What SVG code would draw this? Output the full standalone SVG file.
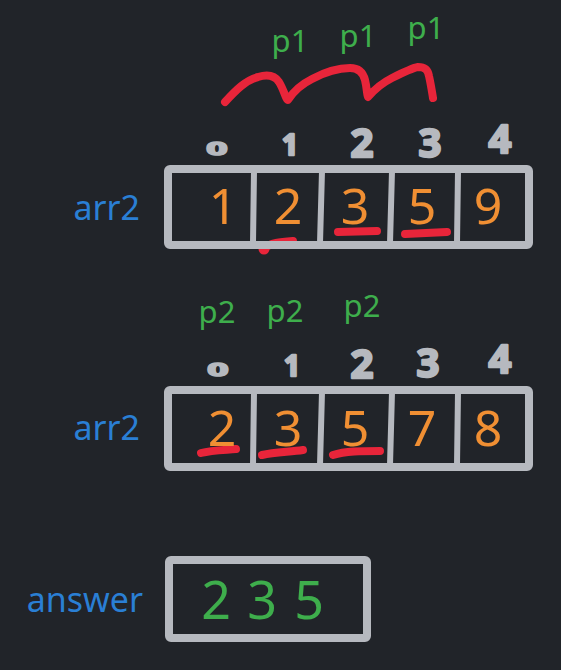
<svg xmlns="http://www.w3.org/2000/svg" width="561" height="670" viewBox="0 0 561 670">
<style>
.box{fill:none;stroke:#b6b9bf;stroke-width:8;stroke-linejoin:round}
.div{stroke:#b6b9bf;stroke-width:6;stroke-linecap:round}
.red{fill:none;stroke:#e8253a;stroke-width:8;stroke-linecap:round;stroke-linejoin:round}
.val{font-family:"Noto Sans",sans-serif;font-size:50px;fill:#f08f33;text-anchor:middle}
.ans{font-family:"Noto Sans",sans-serif;font-size:52px;fill:#3eae4c;text-anchor:middle}
.ptr{font-family:"Noto Sans",sans-serif;font-size:31px;fill:#3eae4c;text-anchor:middle}
.lbl{font-family:"Noto Sans",sans-serif;font-size:34px;fill:#2a7fd4;text-anchor:end}
.idx{font-family:"Noto Sans",sans-serif;font-weight:bold;font-size:40px;fill:#b6b9bf;stroke:#b6b9bf;stroke-width:2.5;stroke-linejoin:round;text-anchor:middle}
.idxs{font-family:"Noto Sans",sans-serif;font-weight:bold;font-size:28px;fill:#b6b9bf;stroke:#b6b9bf;stroke-width:2.5;stroke-linejoin:round;text-anchor:middle}
</style>
<rect width="561" height="670" fill="#212429"/>

<g id="pointers-p1">
<text class="ptr" x="290" y="52">p1</text>
<text class="ptr" x="358" y="47">p1</text>
<text class="ptr" x="426" y="39">p1</text>
</g>

<g id="connectors">
<path class="red" d="M225,102 C236,90 246,80 258,77 C268,74 275,76 279,82 C284,90 286,100 288,100 C293,92 302,84 312,79 C325,72 340,68 350,68 C358,68 363,72 365,80 C367,88 367,96 368,97 C374,90 382,83 392,78 C402,73 412,68 418,67 C425,67 428,70 429,76 C431,85 432,92 433,98"/>
<path class="red" d="M338,232 L377,231"/>
<path class="red" d="M405,234 L447,232"/>
<path class="red" d="M265,248 C270,243 280,242 293,241"/>
<circle cx="264" cy="249" r="5.5" fill="#e8253a"/>
<path class="red" d="M201,453 C212,450 225,450 236,449"/>
<path class="red" d="M262,455 C275,452 290,452 303,450"/>
<path class="red" d="M333,455 C345,451 362,451 380,451"/>
</g>

<g id="arr2-top">
<text class="lbl" x="140" y="220">arr2</text>
<text class="idxs" transform="translate(217,155) scale(1.3,0.62)">0</text>
<text class="idxs" x="290" y="155">1</text>
<text class="idx" x="362" y="157">2</text>
<text class="idx" x="430" y="157">3</text>
<text class="idx" x="500" y="153">4</text>
<rect class="box" x="168" y="169" width="361" height="76" rx="2"/>
<line class="div" x1="254" y1="171" x2="253" y2="243"/>
<line class="div" x1="322" y1="171" x2="320" y2="243"/>
<line class="div" x1="392" y1="171" x2="390" y2="243"/>
<line class="div" x1="458" y1="171" x2="457" y2="243"/>
<text class="val" x="223" y="224">1</text>
<text class="val" x="288" y="224">2</text>
<text class="val" x="355" y="224">3</text>
<text class="val" x="422" y="224">5</text>
<text class="val" x="488" y="224">9</text>
</g>

<g id="pointers-p2">
<text class="ptr" x="217" y="323">p2</text>
<text class="ptr" x="285" y="322">p2</text>
<text class="ptr" x="362" y="317">p2</text>
</g>

<g id="arr2-bottom">
<text class="lbl" x="140" y="440">arr2</text>
<text class="idxs" transform="translate(218,376) scale(1.3,0.62)">0</text>
<text class="idxs" x="292" y="376">1</text>
<text class="idx" x="362" y="378">2</text>
<text class="idx" x="428" y="377">3</text>
<text class="idx" x="500" y="373">4</text>
<rect class="box" x="168" y="390" width="361" height="77" rx="2"/>
<line class="div" x1="254" y1="392" x2="253" y2="465"/>
<line class="div" x1="322" y1="392" x2="320" y2="465"/>
<line class="div" x1="392" y1="392" x2="390" y2="465"/>
<line class="div" x1="458" y1="392" x2="457" y2="465"/>
<text class="val" x="222" y="446">2</text>
<text class="val" x="288" y="446">3</text>
<text class="val" x="355" y="446">5</text>
<text class="val" x="422" y="446">7</text>
<text class="val" x="488" y="446">8</text>
</g>

<g id="answer">
<text class="lbl" x="143" y="612">answer</text>
<rect class="box" x="169" y="560" width="198" height="78" rx="2"/>
<text class="ans" x="216" y="619">2</text>
<text class="ans" x="262" y="619">3</text>
<text class="ans" x="309" y="619">5</text>
</g>
</svg>
